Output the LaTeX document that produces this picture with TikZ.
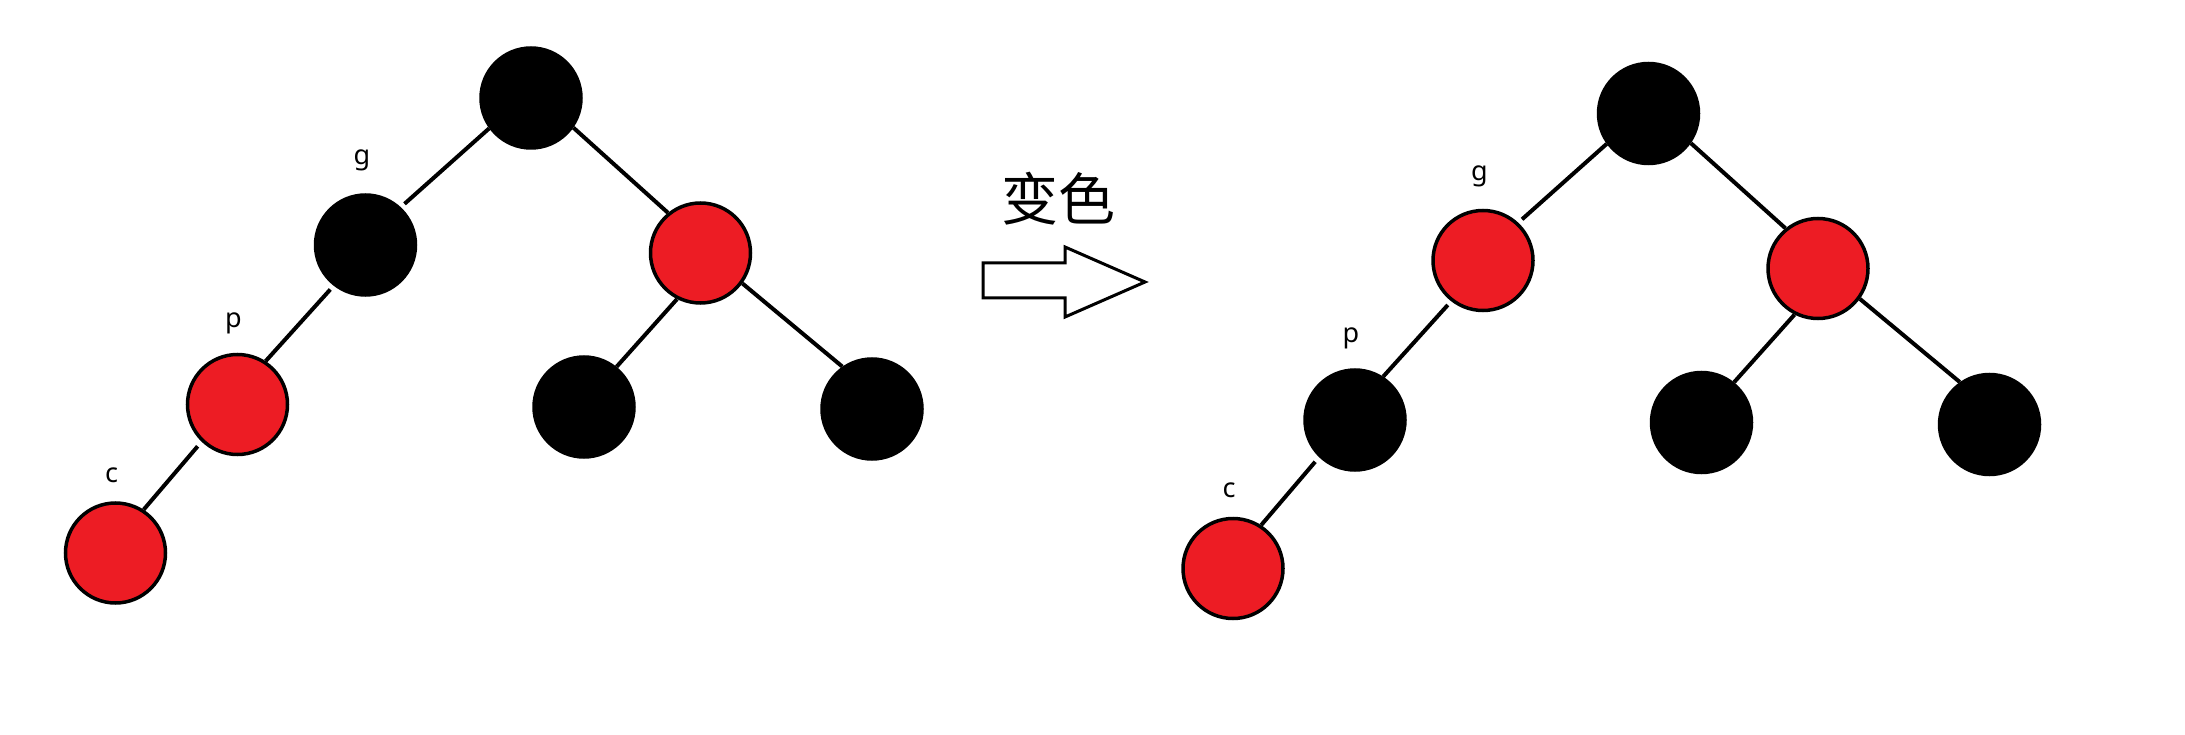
\documentclass[tikz,border=0pt]{standalone}
\usepackage{fontspec}
\setmainfont{Noto Sans}
\newfontfamily\cjk{Noto Sans CJK SC}
\definecolor{rbred}{RGB}{237,28,36}
\tikzset{
  rbnode/.style={circle, draw=black, line width=3.5pt, minimum size=100pt, inner sep=0pt},
  blk/.style={rbnode, fill=black},
  rd/.style={rbnode, fill=rbred},
  edge/.style={line width=4pt, black},
  lbl/.style={anchor=base, inner sep=0pt, font=\fontsize{27}{32}\selectfont},
}
\begin{document}
\begin{tikzpicture}[x=1pt, y=-1pt]
\useasboundingbox (0,0) rectangle (2185,735);
% ---------- left tree ----------
\node[blk] (Lroot) at (531,98) {};
\node[blk] (Lg) at (365.5,245) {};
\node[rd]  (Lu) at (700.5,253) {};
\node[rd]  (Lp) at (237.5,404.5) {};
\node[rd]  (Lc) at (115.5,553) {};
\node[blk] (Lul) at (584,407) {};
\node[blk] (Lur) at (872,409) {};
\draw[edge, shorten >=5pt] (Lroot.216) -- (Lg.47);
\draw[edge] (Lroot.-35) -- (Lu.129);
\draw[edge, shorten <=5pt] (Lg.232) -- (Lp.57);
\draw[edge, shorten <=6pt] (Lp.226) -- (Lc.57);
\draw[edge] (Lu.243) -- (Lul.51);
\draw[edge] (Lu.-36) -- (Lur.125);
\node[lbl] (Lgl) at (362,165) {g};
\node[lbl] (Lpl) at (233.5,327) {p};
\node[lbl] (Lcl) at (111.5,482) {c};
% ---------- arrow ----------
\node[inner sep=0pt, font=\cjk\fontsize{57}{60}\selectfont] (txt) at (1058,199) {变色};
\draw[line width=3pt, line join=miter] (983,263) -- (1065,263) -- (1065,247) -- (1145,282) -- (1065,317) -- (1065,298) -- (983,298) -- cycle;
% ---------- right tree ----------
\begin{scope}[shift={(1117.5,15.5)}]
\node[blk] (Rroot) at (531,98) {};
\node[rd]  (Rg) at (365.5,245) {};
\node[rd]  (Ru) at (700.5,253) {};
\node[blk] (Rp) at (237.5,404.5) {};
\node[rd]  (Rc) at (115.5,553) {};
\node[blk] (Rul) at (584,407) {};
\node[blk] (Rur) at (872,409) {};
\draw[edge, shorten >=5pt] (Rroot.216) -- (Rg.47);
\draw[edge] (Rroot.-35) -- (Ru.129);
\draw[edge, shorten <=5pt] (Rg.232) -- (Rp.57);
\draw[edge, shorten <=6pt] (Rp.226) -- (Rc.57);
\draw[edge] (Ru.243) -- (Rul.51);
\draw[edge] (Ru.-36) -- (Rur.125);
\node[lbl] (Rgl) at (362,165) {g};
\node[lbl] (Rpl) at (233.5,327) {p};
\node[lbl] (Rcl) at (111.5,482) {c};
\end{scope}
\end{tikzpicture}
\end{document}
